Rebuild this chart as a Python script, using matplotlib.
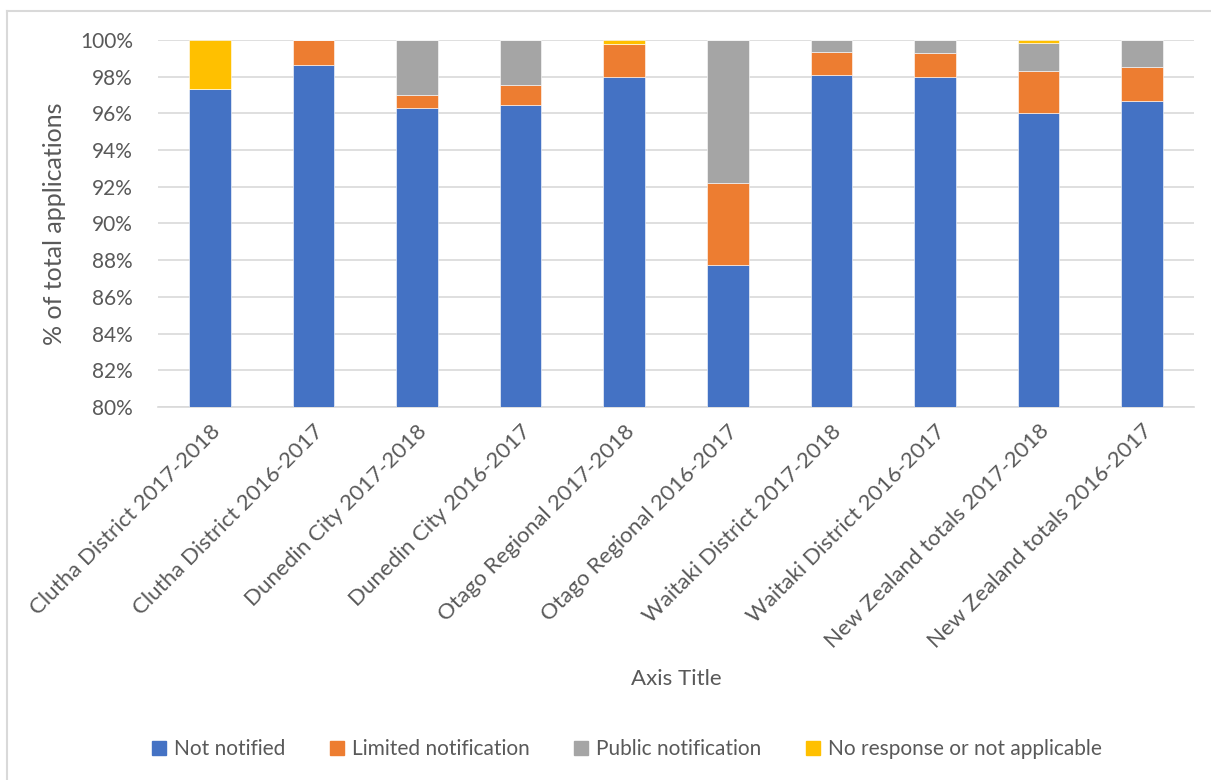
import numpy as np
import matplotlib.pyplot as plt
from matplotlib.lines import Line2D

categories = ['Clutha District 2017-2018', 'Clutha District 2016-2017',
              'Dunedin City 2017-2018', 'Dunedin City 2016-2017',
              'Otago Regional 2017-2018', 'Otago Regional 2016-2017',
              'Waitaki District 2017-2018', 'Waitaki District 2016-2017',
              'New Zealand totals 2017-2018', 'New Zealand totals 2016-2017']

not_notified = [97.31, 98.62, 96.31, 96.45, 97.98, 87.76, 98.09, 98.00, 96.04, 96.69]
limited = [0.00, 1.38, 0.71, 1.08, 1.80, 4.44, 1.26, 1.31, 2.29, 1.86]
public = [0.00, 0.00, 2.98, 2.47, 0.00, 7.80, 0.65, 0.69, 1.49, 1.45]
no_response = [2.69, 0.00, 0.00, 0.00, 0.22, 0.00, 0.00, 0.00, 0.18, 0.00]

series = [('Not notified', not_notified, '#4472C4'),
          ('Limited notification', limited, '#ED7D31'),
          ('Public notification', public, '#A5A5A5'),
          ('No response or not applicable', no_response, '#FFC000')]

text_col = '#595959'
plt.rcParams['font.family'] = ['Lato', 'DejaVu Sans']

fig = plt.figure(figsize=(12.11, 7.8), dpi=100)
ax = fig.add_axes([158 / 1211, 1 - 407 / 780, (1194 - 158) / 1211, (407 - 40) / 780])

x = np.arange(len(categories))
bottom = np.zeros(len(categories))
for name, vals, col in series:
    vals = np.array(vals)
    ax.bar(x, vals, 0.4, bottom=bottom, color=col, label=name,
           edgecolor='white', linewidth=0.4, zorder=3)
    bottom += vals

ax.set_ylim(80, 100)
ax.set_xlim(-0.5, len(categories) - 0.5)
ax.set_yticks(np.arange(80, 101, 2))
ax.set_yticklabels([f'{v}%' for v in range(80, 101, 2)])
ax.yaxis.grid(True, color='#D9D9D9', linewidth=1.2, zorder=0)
for s in ['top', 'right', 'left']:
    ax.spines[s].set_visible(False)
ax.spines['bottom'].set_color('#D9D9D9')
ax.spines['bottom'].set_linewidth(1.2)
ax.tick_params(length=0, labelcolor=text_col, labelsize=15)
ax.tick_params(axis='y', pad=18)
ax.set_xticks(x)
ax.set_xticklabels(categories, rotation=45, ha='right', rotation_mode='anchor', fontsize=16)
ax.tick_params(axis='x', pad=10)

ax.set_ylabel('% of total applications', color=text_col, fontsize=18, labelpad=10)
fig.text(676 / 1211, 1 - 679 / 780, 'Axis Title', color=text_col, fontsize=16,
         ha='center', va='center')

handles = [Line2D([], [], marker='s', linestyle='none', markersize=10,
                  markerfacecolor=c, markeredgecolor=c) for _, _, c in series]
leg = fig.legend(handles, [n for n, _, _ in series], loc='center', ncol=4,
                 bbox_to_anchor=(620 / 1211, 1 - 749 / 780), frameon=False,
                 fontsize=15, handletextpad=-0.3, columnspacing=1.5)
for t in leg.get_texts():
    t.set_color(text_col)

# chart area border (partially cropped in the original)
fig.add_artist(Line2D([7 / 1211, 1], [1 - 11 / 780, 1 - 11 / 780], color='#D9D9D9', lw=1.5))
fig.add_artist(Line2D([7 / 1211, 7 / 1211], [0, 1 - 11 / 780], color='#D9D9D9', lw=1.5))

fig.savefig('out.png', dpi=100)
